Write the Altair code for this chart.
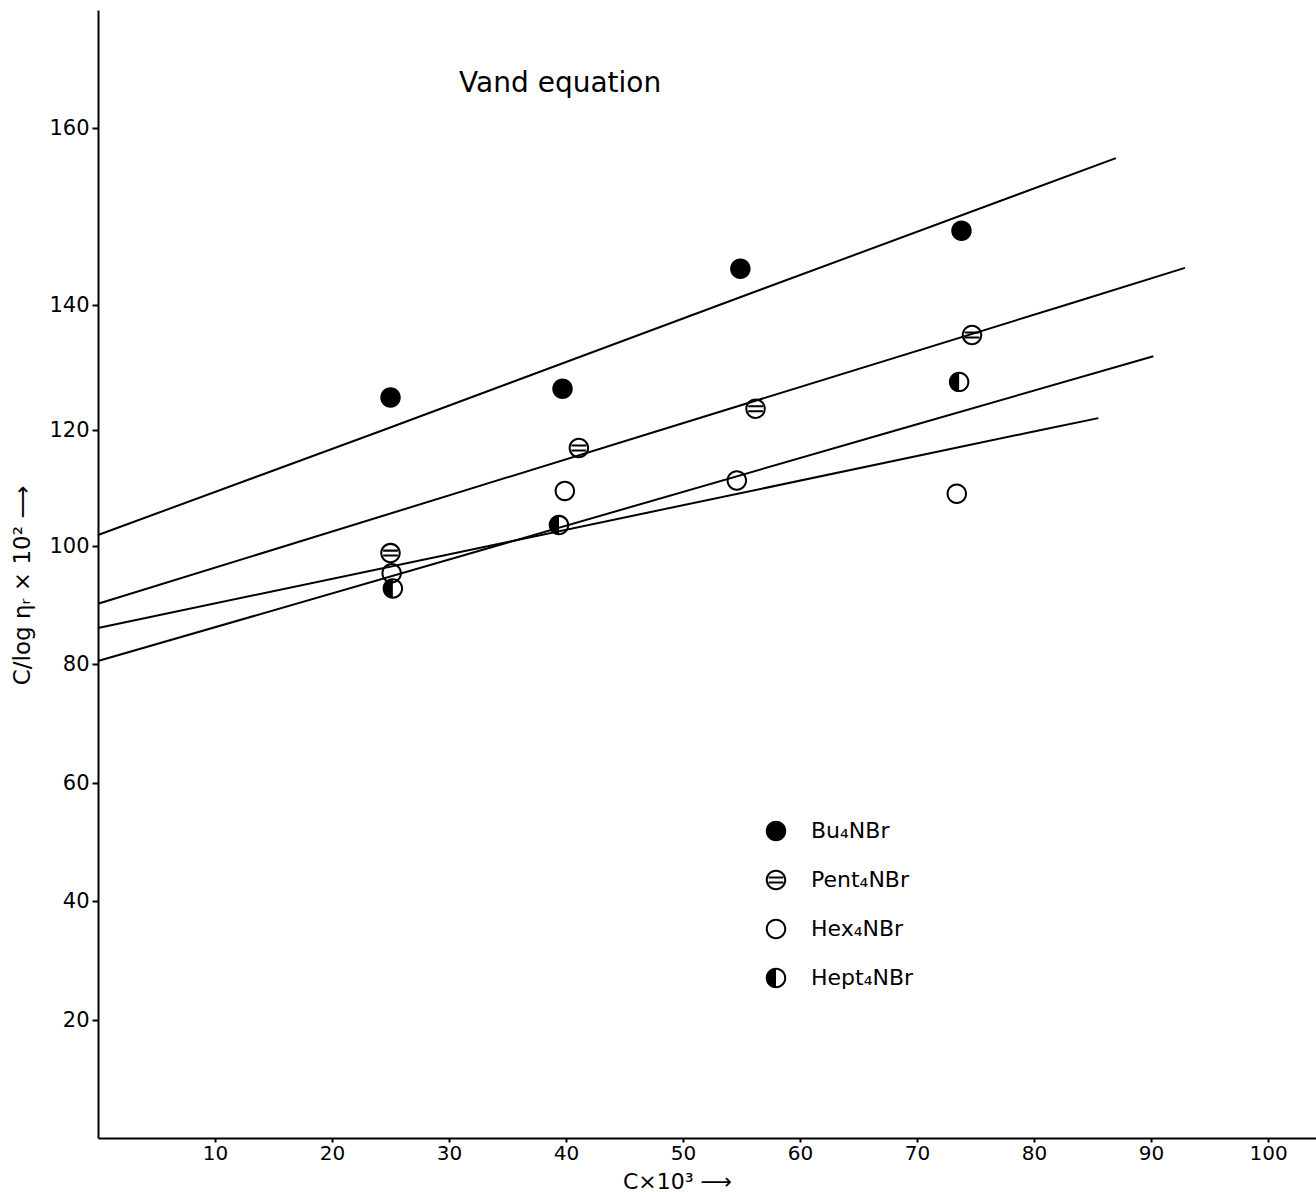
import altair as alt
import pandas as pd

# ---- data ----
series = ["Bu₄NBr", "Pent₄NBr", "Hex₄NBr", "Hept₄NBr"]

bu_x = [25.0, 39.7, 54.9, 73.8]
bu_y = [125.2, 126.6, 144.1, 148.4]
pent_x = [25.0, 41.1, 56.2, 74.7]
pent_y = [98.8, 116.9, 123.4, 135.2]
hex_x = [25.1, 39.9, 54.6, 73.4]
hex_y = [95.4, 109.5, 111.3, 109.0]
hept_x = [25.2, 39.4, 73.6]
hept_y = [92.8, 103.6, 127.7]

# fitted (hand-drawn) straight lines, read where they cross the tick levels
line1_x = [0.0, 24.4, 53.1, 87.0]
line1_y = [101.9, 120.0, 140.0, 156.6]
line2_x = [0.0, 16.0, 48.1, 82.7, 92.9]
line2_y = [90.2, 100.0, 120.0, 140.0, 144.2]
line3_x = [0.0, 34.0, 68.3, 90.2]
line3_y = [80.5, 100.0, 120.0, 131.8]
line4_x = [0.0, 33.4, 80.6, 85.5]
line4_y = [86.1, 100.0, 120.0, 121.9]

x_ticks = [10, 20, 30, 40, 50, 60, 70, 80, 90, 100]
y_ticks = [20, 40, 60, 80, 100, 120, 140, 160]

title_text = ["Vand equation"]
title_x = [39.5]
title_y = [165.6]

# ---- tables ----
pts = []
for name, xs, ys in [(series[0], bu_x, bu_y), (series[1], pent_x, pent_y),
                     (series[2], hex_x, hex_y), (series[3], hept_x, hept_y)]:
    for a, b in zip(xs, ys):
        pts.append({"series": name, "c": a, "v": b})
points_df = pd.DataFrame(pts)

lines = []
for i, (xs, ys) in enumerate([(line1_x, line1_y), (line2_x, line2_y),
                              (line3_x, line3_y), (line4_x, line4_y)]):
    for a, b in zip(xs, ys):
        lines.append({"line": f"L{i+1}", "c": a, "v": b})
lines_df = pd.DataFrame(lines)

title_df = pd.DataFrame({"t": title_text, "c": title_x, "v": title_y})

# ---- symbol paths (unit square -1..1), all drawn as filled black shapes ----
R_HALF = "M0,-1A1,1,0,0,1,0,1L0,0.8A0.8,0.8,0,0,0,0,-0.8Z"
L_HALF = "M0,-1A1,1,0,0,0,0,1L0,0.8A0.8,0.8,0,0,1,0,-0.8Z"
RING = R_HALF + L_HALF
DISK = "M-1,0A1,1,0,1,0,1,0A1,1,0,1,0,-1,0Z"
STRIPES = "M-0.72,-0.34H0.72V-0.14H-0.72Z M-0.72,0.14H0.72V0.34H-0.72Z"
LEFT_DISK = "M0,-1A1,1,0,0,0,0,1Z"
shapes = [DISK, RING + STRIPES, RING, LEFT_DISK + R_HALF]

W, H = 1218, 1128
FONT = "DejaVu Sans"

x_scale = alt.Scale(domain=[0, 104.1], nice=False, zero=False)
# the hand-drawn axis is not uniform: piecewise-linear scale following its ticks
y_scale = alt.Scale(domain=[0, 20, 40, 60, 80, 100, 120, 140, 160, 175],
                    range=[1128, 1010, 891, 773, 654, 536, 420, 295, 118, 0],
                    nice=False, zero=False)

x_enc = alt.X("c:Q", scale=x_scale,
              axis=alt.Axis(values=x_ticks, title="C×10³ ⟶", grid=False,
                            labelFontSize=20,
                            titleX=579, titleY=43, titleBaseline="middle",
                            titleFontSize=22, titleFontWeight="normal"))
y_enc = alt.Y("v:Q", scale=y_scale,
              axis=alt.Axis(values=y_ticks, title="C/log ηᵣ × 10² ⟶", grid=False,
                            labelFontSize=21,
                            titleX=-76, titleY=575, titleAngle=-90,
                            titleAlign="center", titleBaseline="middle",
                            titleFontSize=23, titleFontWeight="normal"))

line_layer = alt.Chart(lines_df).mark_line(color="black", strokeWidth=2).encode(
    x=x_enc, y=y_enc, detail="line:N", order="c:Q")

point_layer = alt.Chart(points_df).mark_point(
    filled=True, color="black", opacity=1, size=420, strokeWidth=0).encode(
    x="c:Q", y="v:Q",
    shape=alt.Shape("series:N", scale=alt.Scale(domain=series, range=shapes),
                    legend=alt.Legend(title=None, orient="none",
                                      legendX=667, legendY=810,
                                      symbolSize=420, symbolFillColor="black",
                                      symbolStrokeWidth=0,
                                      labelFontSize=22, labelFont=FONT,
                                      labelOffset=24, rowPadding=27,
                                      labelLimit=300)))

title_layer = alt.Chart(title_df).mark_text(
    fontSize=28, font=FONT, align="center", baseline="middle", color="black").encode(
    x="c:Q", y="v:Q", text="t:N")

chart = alt.layer(line_layer, point_layer, title_layer).properties(
    width=W, height=H,
    autosize=alt.AutoSizeParams(type="none"),
    padding={"left": 98, "top": 10, "right": 0, "bottom": 54},
).configure_view(stroke=None).configure_axis(
    domainColor="black", domainWidth=2, tickColor="black", tickWidth=2,
    labelFont=FONT, titleFont=FONT, labelColor="black", titleColor="black",
).configure_axisY(tickSize=6, labelPadding=3).configure_axisX(
    tickSize=4, labelPadding=1)

chart.save("out.html", embed_options={"renderer": "svg", "actions": False})
